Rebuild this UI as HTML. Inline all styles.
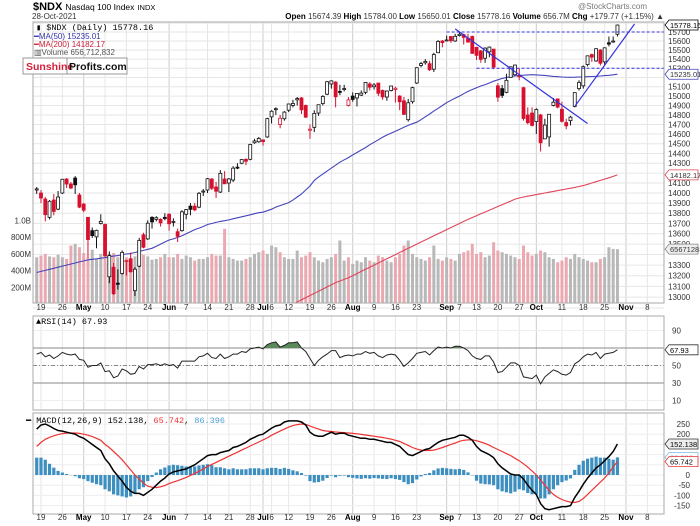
<!DOCTYPE html>
<html><head><meta charset="utf-8"><style>
html,body{margin:0;padding:0;background:#fff;}
svg{display:block;font-family:"Liberation Sans",sans-serif;}
.t{font-size:8px;fill:#333;}
.b{font-weight:bold;fill:#000;}
.m{font-family:"Liberation Mono",monospace;font-size:8.5px;}
</style></head><body>
<svg id="chart" width="700" height="526" viewBox="0 0 700 526" xmlns="http://www.w3.org/2000/svg">
<text x="33" y="10" style="font-size:11px;font-weight:bold">$NDX <tspan style="font-size:8.5px;font-weight:normal">Nasdaq 100 Index</tspan> <tspan style="font-size:7.5px;font-weight:normal">INDX</tspan></text>
<text x="647" y="9" class="t" text-anchor="end" style="fill:#777">@StockCharts.com</text>
<text x="32" y="19" class="t">28-Oct-2021</text>
<text x="664" y="19" class="t" text-anchor="end"><tspan class="b">Open</tspan> 15674.39 <tspan class="b">High</tspan> 15784.00 <tspan class="b">Low</tspan> 15650.01 <tspan class="b">Close</tspan> 15778.16 <tspan class="b">Volume</tspan> 656.7M <tspan class="b">Chg</tspan> +179.77 (+1.15%) ▲</text>
<defs>
<clipPath id="cm"><rect x="33" y="22" width="631" height="281"/></clipPath>
<clipPath id="cr"><rect x="33" y="316" width="631" height="94"/></clipPath>
<clipPath id="cd"><rect x="33" y="413" width="631" height="100"/></clipPath>
</defs>
<g id="grid"></g>
<g id="main" clip-path="url(#cm)"></g>
<g id="rsi" clip-path="url(#cr)"></g>
<g id="macd" clip-path="url(#cd)"></g>
<g id="frames"></g>
<g id="labels"></g>
</svg>
<script>
const closes=[14041,13950,13786,13918,13818,13960,14138,14090,14050,14082,13860,
13830,13544,13582,13633,13720,13389,13390,13032,13119,13421,13342,13237,13261,13535,13470,13702,13715,13756,13706,13748,
13697,13720,13575,13814,
13836,13838,13833,13997,14020,14143,14047,14018,14197,14092,14141,14250,14253,14337,14320,14492,14528,14554,14522,14761,
14839,14866,14765,14830,
14916,14921,14973,14854,14776,14651,14816,14908,14996,15154,15163,14993,15049,15080,14959,
14964,15028,15032,15147,15095,15119,15030,14991,15054,15108,15084,14939,14806,14929,15090,15306,15351,15375,15284,15450,
15595,15582,15611,15603,15652,
15675,15640,15588,15463,
15441,15397,15521,15532,15313,14989,15007,15169,15316,15335,15208,14763,14719,14690,14857,
14510,14694,14807,14935,14883,14733,14686,14777,15037,15146,15317,15436,15422,15514,15355,
15524,15565,15599,15778];
const opens=[14030,14000,13940,13760,13930,13840,14000,14140,14090,14150,13980,
13890,13760,13630,13570,13700,13690,13190,13280,13130,13220,13340,13360,13060,13290,13590,13550,13760,13740,13740,13760,
13790,13710,13620,13630,
13790,13870,13870,13860,14010,14030,14140,14060,14010,14140,14100,14130,14260,14300,14340,14340,14510,14520,14540,14570,
14780,14860,14700,14760,
14850,14900,14960,14980,14900,14640,14670,14820,14920,15020,15130,15150,15050,15070,14900,
15000,14980,15010,15040,15130,15100,15140,15060,14990,15060,15070,15000,14950,14750,14940,15140,15330,15360,15350,15290,
15470,15600,15600,15650,15600,
15660,15670,15630,15650,
15530,15490,15410,15480,15510,15110,15080,15040,15200,15230,15220,15090,14800,14820,14730,
14800,14550,14570,14900,14970,14860,14720,14740,14890,15080,15110,15340,15450,15380,15500,
15370,15580,15590,15675];
const highs=[14060,14030,13960,13930,13990,14020,14140,14150,14110,14170,14000,
13900,13760,13660,13640,13790,13700,13430,13320,13260,13440,13350,13420,13280,13560,13610,13730,13770,13770,13750,13800,
13800,13750,13650,13830,
13840,13900,13900,14010,14040,14150,14150,14110,14230,14220,14150,14270,14300,14340,14350,14500,14550,14570,14540,14770,
14850,14880,14800,14840,
14920,14960,14990,14990,14910,14700,14850,14910,15010,15160,15170,15160,15120,15120,14990,
15040,15030,15060,15150,15150,15140,15140,15070,15060,15110,15100,15010,14990,14970,15100,15310,15370,15400,15380,15470,
15610,15610,15660,15650,15680,
15700,15680,15680,15660,
15530,15500,15530,15540,15510,15140,15120,15240,15320,15340,15300,15100,14880,14880,14870,
14810,14760,14810,14980,14970,14940,14760,14790,15040,15170,15330,15440,15460,15520,15510,
15530,15650,15650,15784];
const lows=[13990,13900,13720,13740,13780,13830,13990,14050,14040,13990,13850,
13810,13370,13560,13460,13690,13380,13130,13020,13070,13210,13200,13230,13010,13280,13460,13540,13650,13720,13670,13730,
13630,13670,13520,13620,
13740,13780,13820,13850,13970,14000,14030,13950,14000,14090,14010,14110,14240,14290,14280,14330,14500,14510,14480,14560,
14710,14800,14660,14740,
14830,14880,14900,14810,14770,14550,14620,14790,14900,15010,15080,14880,15010,15050,14890,
14940,14890,15000,15020,15060,15070,15000,14960,14950,15050,14930,14850,14800,14730,14920,15130,15310,15340,15270,15260,
15470,15530,15600,15580,15590,
15650,15560,15580,15460,
15390,15360,15360,15420,15290,14940,14980,15030,15200,15220,15170,14740,14700,14680,14600,
14420,14550,14470,14890,14870,14720,14650,14690,14880,15060,15080,15320,15370,15370,15330,
15330,15540,15580,15650];
const volumes=[560,580,600,570,560,590,560,540,700,720,680,
610,560,650,540,600,710,600,610,560,580,560,540,570,600,590,570,530,540,560,600,
560,560,600,540,
580,560,520,540,540,560,600,580,580,900,560,540,520,520,540,560,600,620,640,600,
700,680,620,560,
540,540,640,560,580,620,560,520,500,540,560,600,760,520,560,
480,520,500,560,520,500,580,560,520,500,560,600,700,760,600,560,540,520,560,700,
540,520,560,540,520,
600,620,640,720,
600,620,560,580,740,640,620,600,580,560,540,700,620,580,600,
640,620,560,540,500,520,560,540,600,560,540,520,500,500,540,
560,680,660,657];
const ma50=[13230,13240,13250,13260,13270,13280,13290,13300,13310,13320,13330,13340,13350,13355,13360,13365,13370,13380,13385,13390,13400,13405,13410,13420,13430,13440,13450,13460,13480,13500,13520,13540,
13550,13565,13580,13600,13620,13640,13655,13670,13690,13700,13710,13720,13727,13735,13745,13755,13765,13775,13785,13795,13805,13810,
13825,13840,13860,13875,13890,13905,13930,13960,13990,14030,14070,14126,14160,14190,14220,14250,14280,14310,14335,14357,
14385,14410,14435,14460,14490,14515,14540,14567,14590,14610,14630,14650,14670,14690,14708,14724,
14750,14780,14810,14840,14870,14900,14930,14955,14978,15000,15025,15050,15070,15090,15108,15123,
15140,15160,15175,15190,15200,15210,15217,
15222,15225,15228,15230,15228,15225,15222,15217,15212,15208,15205,15203,15202,15203,15205,15206,
15208,15210,15213,15216,15220,15224,15229,15235];
const ma200Start=50;
const ma200=[12750,12767,12784,12801,12818,12835,
12855,12875,12895,12915,12935,12955,12975,12995,13015,13035,13055,13075,13095,13115,13135,13150,13165,13180,
13200,13220,13240,13260,13280,13300,13320,13340,13360,13380,13400,13420,13440,13460,13480,13500,13520,13540,13560,13580,13600,13620,13640,13660,13680,13700,13720,13740,
13758,13776,13794,13812,13830,13848,13866,13884,13902,13920,13940,
13950,13960,13968,13976,13984,13992,14000,14008,14016,14024,14032,14040,14048,14056,14065,14074,
14087,14100,14113,14126,14139,14152,14167,14182];
const rsiVals=[63,65,60,62,58,61,65,63,62,63,57,
56,48,50,50,53,43,44,36,38,46,44,40,41,49,46,51,51,52,50,52,
50,51,47,55,
55,55,55,60,61,64,59,58,63,58,60,63,63,66,65,69,70,71,69,74,
76,77,71,73,
76,76,77,70,66,58,50,56,60,63,67,67,59,61,62,
61,63,63,66,64,65,61,59,62,63,62,56,49,53,58,64,65,66,62,67,
71,70,71,70,72,
72,70,67,61,
58,57,61,61,54,42,43,48,53,53,50,37,36,35,39,
29,37,41,45,43,40,39,42,52,55,60,63,62,65,58,
63,64,65,67.93];
const macdLine=[225,245,250,240,228,218,215,210,205,200,188,
180,165,150,135,120,80,55,20,-5,-30,-60,-80,-90,-90,-100,-85,-70,-50,-30,-15,
5,15,20,25,
30,40,50,65,80,95,100,100,110,115,120,135,140,150,160,175,185,195,200,215,
230,240,245,260,
265,265,265,260,245,210,195,190,190,200,210,200,205,205,195,
190,185,180,180,175,175,170,165,160,160,150,140,120,100,95,105,115,125,130,145,
160,170,175,180,185,
195,195,185,170,
140,120,110,100,85,55,35,20,5,0,0,-20,-50,-75,-95,
-140,-165,-170,-165,-160,-155,-155,-150,-110,-80,-45,-15,10,35,50,
70,90,115,152.138];
const signalLine=[140,160,175,185,192,198,203,205,206,206,204,
200,195,188,180,170,150,135,115,95,75,50,25,0,-20,-40,-55,-60,-62,-58,-52,
-42,-35,-28,-20,
-12,-2,8,18,30,42,52,62,72,82,92,102,112,122,132,142,152,162,172,182,
195,205,215,225,
235,242,247,250,248,240,232,225,218,215,213,211,209,208,206,
204,202,199,196,193,190,187,184,180,176,170,164,155,145,135,127,122,120,120,122,
128,135,142,150,157,
165,170,172,172,
168,162,155,146,135,125,115,105,95,82,70,55,38,20,0,
-25,-50,-75,-95,-110,-120,-128,-133,-135,-130,-115,-95,-75,-55,-35,
-15,10,40,65.742];
const tickLabels=["19","26","May","10","17","24","Jun","7","14","21","28","Jul","6","12","19","26","Aug","9","16","23","Sep","7","13","20","27","Oct","11","18","25","Nov","8"];
const tickDays=[1,6,11,16,21,26,31,35,40,45,50,53,55,59,64,69,74,79,84,89,96,99,103,108,113,117,123,128,133,138,143];
const priceTicks=[12900,13000,13100,13200,13300,13400,13500,13600,13700,13800,13900,14000,14100,14200,14300,14400,14500,14600,14700,14800,14900,15000,15100,15200,15300,15400,15500,15600,15700,15800];
const volTicks=[200,400,600,800,1000];
const volTickLabels=["200M","400M","600M","800M","1.0B"];
const rsiTicks=[90,70,50,30,10];
const macdTicks=[250,200,150,100,50,0,-50,-100,-150];
const resistanceLevels=[[96,15700],[103,15300]];
const trendDown=[[98,15735],[129,14710]];
const trendUp=[[126,14890],[140,15790]];

const NS="http://www.w3.org/2000/svg";
const X=i=>41+(i-1)*4.27;
const PY=p=>32+1405*Math.log(15700/p);
const VY=v=>304-v*0.0835;
const RY=v=>348+(70-v)*0.875;
const MY=v=>475-v*0.204;
function mk(parent,tag,attrs,text){const e=document.createElementNS(NS,tag);for(const k in attrs)e.setAttribute(k,attrs[k]);if(text!==undefined)e.textContent=text;document.getElementById(parent).appendChild(e);return e;}
const RIGHT=664,LEFT=33;
const panels=[[22,303],[316,410],[413,514]];
panels.forEach((p,pi)=>{
  tickDays.forEach((d,k)=>{const x=X(d);const isM=isNaN(+tickLabels[k]);
    const g=mk('grid','line',{x1:x,x2:x,y1:p[0],y2:p[1],stroke:isM?'#ccc':'#e6e6e6','stroke-width':1});
    
    
  });
});
priceTicks.forEach(p=>{const y=PY(p);const g=mk('grid','line',{x1:LEFT,x2:RIGHT,y1:y,y2:y,stroke:'#e6e6e6'});
  
  
  if(y>24&&y<302&&p!==15800&&p!==15200&&p!==14200&&p!==13400){const t=mk('labels','text',{x:668,y:y+3,class:'t'},String(p));
  
  }
});
volTicks.forEach((v,k)=>{const y=VY(v);const t=mk('labels','text',{x:31,y:y+3,class:'t','text-anchor':'end'},volTickLabels[k]);
  
  });
[90,70,50,30,10].forEach(v=>{const g=mk('grid','line',{x1:LEFT,x2:RIGHT,y1:RY(v),y2:RY(v),stroke:'#eee'});
  
  });
rsiTicks.forEach(v=>{if(v===70)return;const t=mk('labels','text',{x:672,y:RY(v)+3,class:'t'},String(v));
  
  });
macdTicks.forEach(v=>{const g=mk('grid','line',{x1:LEFT,x2:RIGHT,y1:MY(v),y2:MY(v),stroke:'#eee'});
  
  
  if(v===150||v===100||v===50)return;
  const t=mk('labels','text',{x:690,y:MY(v)+3,class:'t','text-anchor':'end'},String(v));
  
  });
[310,520].forEach(yy=>{tickDays.forEach((d,k)=>{const isM=isNaN(+tickLabels[k]);const t=mk('labels','text',{x:X(d),y:yy,class:'t'+(isM?' b':''),'text-anchor':'middle'},tickLabels[k]);
  
  });});
volumes.forEach((v,i)=>{const down=i>0&&closes[i]<closes[i-1];const y=VY(v);
  const r=mk('main','rect',{x:X(i)-1.5,y:y,width:3,height:304-y,fill:down?'#eaa9b1':'#b8b8b8'});
  
  });
function poly(parent,vals,start,fy,color,w,name){let d='';vals.forEach((v,k)=>{d+=(k?'L':'M')+X(start+k).toFixed(1)+','+fy(v).toFixed(1);});
  const p=mk(parent,'path',{d:d,fill:'none',stroke:color,'stroke-width':w});
  
  return p;}
poly('main',ma50,0,PY,'#4444bb',1.1,'ma50-line');
poly('main',ma200,ma200Start,PY,'#e0455a',1.1,'ma200-line');
closes.forEach((c,i)=>{const o=opens[i];const down=i>0&&c<closes[i-1];const col=down?'#d6102e':'#111';const x=X(i);
  const w=mk('main','line',{x1:x,x2:x,y1:PY(highs[i]),y2:PY(lows[i]),stroke:col,'stroke-width':1});
  
  
  const top=PY(Math.max(o,c)),bot=PY(Math.min(o,c));
  const b=mk('main','rect',{x:x-1.5,y:top,width:3,height:Math.max(1,bot-top),fill:c<o?col:'#fff',stroke:col,'stroke-width':0.8});
  
  });
resistanceLevels.forEach(r=>{const l=mk('main','line',{x1:X(r[0]),x2:RIGHT,y1:PY(r[1]),y2:PY(r[1]),stroke:'#3333dd','stroke-dasharray':'3,2','stroke-width':1});
  
  });
[trendDown,trendUp].forEach(t=>{const l=mk('main','line',{x1:X(t[0][0]),y1:PY(t[0][1]),x2:X(t[1][0]),y2:PY(t[1][1]),stroke:'#3333dd','stroke-width':1.2});
  
  });
[[70,'none'],[30,'none'],[50,'4,2,1,2']].forEach(a=>{const l=mk('rsi','line',{x1:LEFT,x2:RIGHT,y1:RY(a[0]),y2:RY(a[0]),stroke:'#888','stroke-dasharray':a[1]});
  
  });
{let d='M'+X(0)+','+RY(70);rsiVals.forEach((v,i)=>{d+='L'+X(i).toFixed(1)+','+RY(Math.max(v,70)).toFixed(1);});d+='L'+X(rsiVals.length-1)+','+RY(70)+'Z';
 const f=mk('rsi','path',{d:d,fill:'#5a8a5a',stroke:'none'});
 
 }
poly('rsi',rsiVals,0,RY,'#222',1,'rsi-line');
macdLine.forEach((m,i)=>{const h=m-signalLine[i];const y0=MY(0),y1=MY(h);
  const r=mk('macd','rect',{x:X(i)-1.6,y:Math.min(y0,y1),width:3.2,height:Math.abs(y1-y0),fill:'#3d8fc0'});
  
  });
poly('macd',signalLine,0,MY,'#ee3333',1.2,'macd-signal-line');
poly('macd',macdLine,0,MY,'#000',1.5,'macd-line');
panels.forEach(p=>{const r=mk('frames','rect',{x:LEFT,y:p[0],width:RIGHT-LEFT,height:p[1]-p[0],fill:'none',stroke:'#aaa'});
  
  });
function tag(y,txt,stroke,fill,name,tc){const g=mk('labels','path',{d:`M665,${y} l4,-5 h29 v10 h-29 z`,fill:fill,stroke:stroke,'stroke-width':0.8});
  
  
  const t=mk('labels','text',{x:670,y:y+3,class:'t',style:'font-size:7.5px;fill:'+(tc||'#000')},txt);
  
  }
tag(PY(closes[closes.length-1]),'15778.16','#000','#fff','close-tag');
tag(PY(ma50[ma50.length-1]),'15235.01','#4444bb','#fff','ma50-tag','#333');
tag(PY(ma200[ma200.length-1]),'14182.17','#e0455a','#fff','ma200-tag','#333');
tag(VY(volumes[volumes.length-1]),'656712832','#888','#eee','volume-tag','#333');
tag(RY(rsiVals[rsiVals.length-1]),'67.93','#333','#fff','rsi-tag');
tag(MY(macdLine[macdLine.length-1]),'152.138','#333','#eee','macd-tag');
tag(MY(86.396),'86.396','#7ab8e0','#fff','histogram-tag','#6aa8d0');
tag(MY(signalLine[signalLine.length-1]),'65.742','#e33','#fff','signal-tag');
</script>
<svg style="position:absolute;left:0;top:0" width="700" height="526">
<g font-family="Liberation Mono, monospace" font-size="8.5">
<text x="36" y="30">▮ $NDX (Daily) 15778.16</text>
<text x="34" y="39" fill="#3333aa" font-family="Liberation Sans, sans-serif" font-size="8">━MA(50) 15235.01</text>
<text x="34" y="47" fill="#d0203a" font-family="Liberation Sans, sans-serif" font-size="8">━MA(200) 14182.17</text>
<text x="34" y="55" fill="#555" font-family="Liberation Sans, sans-serif" font-size="8">▥Volume 656,712,832</text>
<text x="36" y="324">▲RSI(14) 67.93</text>
<text x="26" y="423">━ MACD(12,26,9) 152.138, <tspan fill="#e33">65.742</tspan>, <tspan fill="#4aa0d0">86.396</tspan></text>
</g>
<g>
<rect x="23" y="58" width="104" height="16" fill="#fff" stroke="#999"/>
<line x1="67" y1="58" x2="67" y2="74" stroke="#999"/>
<text x="26" y="70" font-family="Liberation Sans, sans-serif" font-size="10.5" font-weight="bold" fill="#d0203a">Sunshine</text>
<text x="69" y="70" font-family="Liberation Sans, sans-serif" font-size="10.5" font-weight="bold" fill="#111">Profits.com</text>
</g>
</svg>
</body></html>
